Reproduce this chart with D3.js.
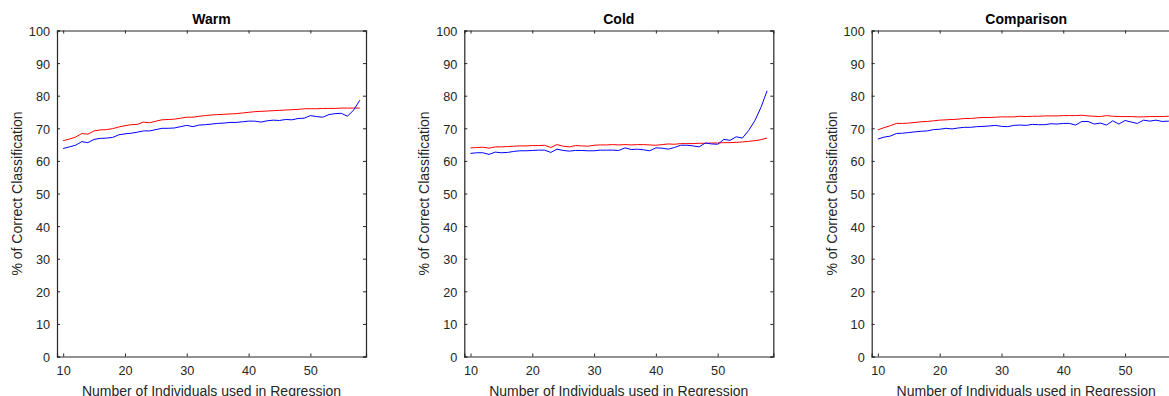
<!DOCTYPE html>
<html>
<head>
<meta charset="utf-8">
<script src="https://cdn.jsdelivr.net/npm/d3@7"></script>
<style>
  body { margin: 0; background: #fff; }
  svg { display: block; font-family: Arial, "Liberation Sans", Helvetica, sans-serif; }
</style>
</head>
<body>
<svg width="1169" height="396"></svg>
<script>
// number of individuals (x)
var individuals = [10,11,12,13,14,15,16,17,18,19,20,21,22,23,24,25,26,27,28,29,30,
  31,32,33,34,35,36,37,38,39,40,41,42,43,44,45,46,47,48,49,50,51,52,53,54,55,56,57,58];

var xTicks = [10, 20, 30, 40, 50];
var yTicks = [0, 10, 20, 30, 40, 50, 60, 70, 80, 90, 100];

var panelTitles = ["Warm", "Cold", "Comparison"];

// % correct, red series
var warmRed = [66.2,66.7,67.3,68.4,68.2,69.2,69.5,69.6,69.9,70.4,70.8,71.1,71.2,71.9,71.7,72.2,72.6,72.7,72.8,73.1,
  73.4,73.4,73.7,73.9,74.1,74.2,74.3,74.4,74.5,74.7,74.9,75.1,75.2,75.3,75.4,75.5,75.6,75.7,75.8,76.0,
  76.0,76.0,76.1,76.1,76.1,76.2,76.2,76.2,76.2];
var coldRed = [64.0,64.1,64.2,63.9,64.3,64.3,64.4,64.5,64.6,64.6,64.7,64.7,64.8,64.1,65.0,64.5,64.3,64.7,64.6,64.5,
  64.8,64.9,64.9,65.0,64.9,65.0,64.9,65.0,65.0,64.9,64.8,65.0,65.2,65.1,65.3,65.3,65.3,65.4,65.4,65.5,
  65.5,65.6,65.6,65.7,65.8,66.0,66.2,66.5,67.0];
var compRed = [69.5,70.2,70.8,71.5,71.5,71.6,71.8,72.0,72.1,72.3,72.5,72.6,72.7,72.8,73.0,73.0,73.2,73.3,73.3,73.4,
  73.5,73.5,73.5,73.7,73.6,73.7,73.7,73.8,73.8,73.8,73.9,73.9,73.9,74.0,73.8,73.7,73.6,73.9,73.7,73.6,
  73.6,73.6,73.5,73.5,73.6,73.6,73.6,73.7,73.7];

// % correct, blue series
var warmBlue = [63.8,64.3,64.8,65.9,65.6,66.6,66.9,67.0,67.2,68.0,68.3,68.5,68.8,69.2,69.2,69.6,70.0,70.0,70.1,70.5,
  70.9,70.5,71.0,71.1,71.3,71.5,71.6,71.8,71.8,72.0,72.2,72.2,71.9,72.3,72.5,72.4,72.7,72.6,73.0,73.1,
  73.9,73.6,73.4,74.2,74.5,74.6,73.7,75.6,78.6];
var coldBlue = [62.3,62.5,62.5,62.0,62.7,62.5,62.6,62.9,63.1,63.1,63.2,63.3,63.3,62.6,63.6,63.2,63.0,63.2,63.2,63.1,
  63.1,63.3,63.3,63.3,63.2,64.0,63.5,63.6,63.4,63.1,64.0,63.9,63.6,64.1,64.8,64.8,64.6,64.3,65.5,65.2,
  65.1,66.6,66.3,67.4,67.0,69.3,72.3,76.4,81.5];
var compBlue = [66.7,67.3,67.6,68.4,68.5,68.7,68.9,69.1,69.2,69.6,69.7,70.0,69.8,70.1,70.3,70.3,70.5,70.6,70.7,70.9,
  70.6,70.5,70.9,71.0,70.9,71.2,71.1,71.1,71.4,71.3,71.5,71.5,71.0,72.1,72.1,71.3,71.6,71.0,72.3,71.3,
  72.4,71.9,71.5,72.5,72.2,72.5,72.1,72.2,72.2];

var panels = [
  { title: panelTitles[0], red: warmRed, blue: warmBlue },
  { title: panelTitles[1], red: coldRed, blue: coldBlue },
  { title: panelTitles[2], red: compRed, blue: compBlue }
];

var svg = d3.select("svg");
var axisColor = "#262626";
var plotW = 309, plotH = 326, plotTop = 30.5;
var plotLefts = [57, 464.3, 871.7];

var x = d3.scaleLinear().domain([9, 59]).range([0, plotW]);
var y = d3.scaleLinear().domain([0, 100]).range([plotH, 0]);

var line = d3.line()
  .x(function(d){ return x(d[0]); })
  .y(function(d){ return y(d[1]); });

panels.forEach(function(p, i){
  var g = svg.append("g").attr("transform", "translate(" + plotLefts[i] + "," + plotTop + ")");

  // axes (ticks inside, box)
  var axB = g.append("g").attr("transform", "translate(0," + plotH + ")")
    .call(d3.axisBottom(x).tickValues(xTicks).tickSize(-3).tickPadding(9));
  var axL = g.append("g")
    .call(d3.axisLeft(y).tickValues(yTicks).tickSize(-3).tickPadding(7));
  var axT = g.append("g")
    .call(d3.axisTop(x).tickValues(xTicks).tickSize(-3).tickFormat(""));
  var axR = g.append("g").attr("transform", "translate(" + plotW + ",0)")
    .call(d3.axisRight(y).tickValues(yTicks).tickSize(-3).tickFormat(""));

  [axB, axL, axT, axR].forEach(function(a){
    a.select(".domain").attr("stroke", axisColor).attr("stroke-width", 1.2);
    a.selectAll(".tick line").attr("stroke", axisColor);
    a.selectAll(".tick text").attr("fill", axisColor).style("font-size", "12.7px")
      .style("font-family", "Arial, 'Liberation Sans', sans-serif");
  });
  axB.selectAll(".tick text").attr("dy", "0.71em");
  axL.selectAll(".tick text").attr("dy", "0.4em");

  var redData = individuals.map(function(n, k){ return [n, p.red[k]]; });
  var blueData = individuals.map(function(n, k){ return [n, p.blue[k]]; });

  g.append("path").datum(redData)
    .attr("fill", "none").attr("stroke", "#ff0000").attr("stroke-width", 1)
    .attr("d", line);
  g.append("path").datum(blueData)
    .attr("fill", "none").attr("stroke", "#0000ff").attr("stroke-width", 1)
    .attr("d", line);

  g.append("text")
    .attr("x", plotW / 2).attr("y", -7)
    .attr("text-anchor", "middle")
    .style("font-size", "14px").style("font-weight", "bold").attr("fill", "#000")
    .text(p.title);

  g.append("text")
    .attr("x", plotW / 2).attr("y", plotH + 39)
    .attr("text-anchor", "middle")
    .style("font-size", "14px").attr("fill", axisColor)
    .text("Number of Individuals used in Regression");

  g.append("text")
    .attr("transform", "translate(-35," + (plotH / 2) + ") rotate(-90)")
    .attr("text-anchor", "middle")
    .style("font-size", "14px").attr("fill", axisColor)
    .text("% of Correct Classification");
});
</script>
</body>
</html>
